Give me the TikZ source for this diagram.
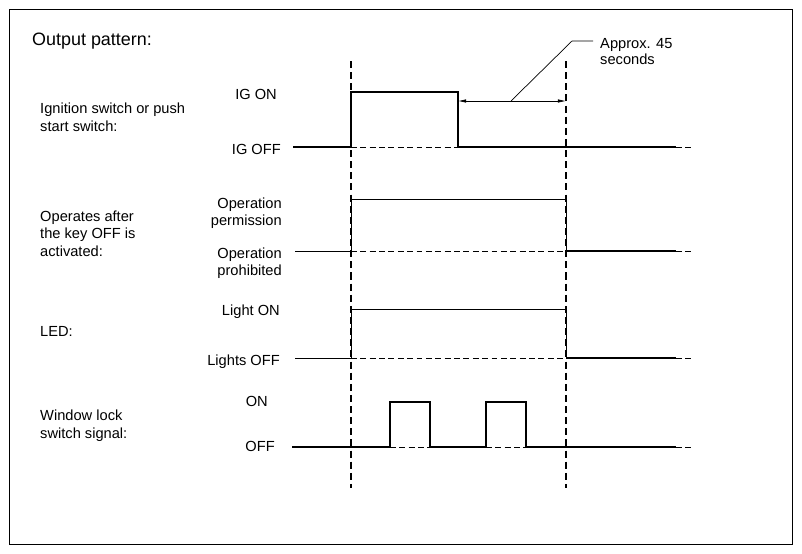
\documentclass[tikz,border=0pt]{standalone}
\usepackage{fontspec}
\setmainfont{Liberation Sans}
\usetikzlibrary{arrows.meta, positioning}

\begin{document}
\begin{tikzpicture}[x=0.03cm, y=-0.03cm,
  lbl/.style={inner sep=0pt, font=\fontsize{12.5}{14.8}\selectfont},
  wave/.style={line width=1.8pt},
  wavethin/.style={line width=0.8pt},
  ref/.style={line width=0.8pt, dash pattern=on 5pt off 3pt},
  tline/.style={line width=1.8pt, dash pattern=on 6pt off 3.5pt}]
  \useasboundingbox (0,0) rectangle (802,554);
  \draw[line width=0.8pt] (9,9) rectangle (792,544);

  \node[lbl, anchor=base west, font=\fontsize{15.3}{18}\selectfont] (title) at (32,45) {Output pattern:};
  \node[lbl, anchor=base west, align=left] (ign) at (40,131) {Ignition switch or push\\start switch:};
  \node[lbl, anchor=base west, align=left] (oper) at (40,256) {Operates after\\the key OFF is\\activated:};
  \node[lbl, anchor=base west] (led) at (40,336) {LED:};
  \node[lbl, anchor=base west, align=left] (win) at (40,438.3) {Window lock\\switch signal:};

  \node[lbl, anchor=base east] (igon) at (277,99) {IG ON};
  \node[lbl, anchor=base east] (igoff) at (281,154) {IG OFF};
  \node[lbl, anchor=base east, align=right] (perm) at (282,225.7) {Operation\\permission};
  \node[lbl, anchor=base east, align=right] (proh) at (282,275.7) {Operation\\prohibited};
  \node[lbl, anchor=base east] (lon) at (280,315) {Light ON};
  \node[lbl, anchor=base east] (loff) at (280,365) {Lights OFF};
  \node[lbl, anchor=base east] (won) at (268,406.7) {ON};
  \node[lbl, anchor=base east] (woff) at (275,451.7) {OFF};
  \node[lbl, anchor=base west, align=left, font=\fontsize{12.5}{13.6}\selectfont] (approx) at (600,64.7) {Approx. 45\\seconds};

  \coordinate (t1) at (351,61);
  \coordinate (t1b) at (351,488);
  \coordinate (t2) at (566,61);
  \coordinate (t2b) at (566,488);
  \draw[tline] (t1) -- (t1b);
  \draw[tline] (t2) -- (t2b);

  \draw[wave] (293,147) -- (351,147) -- (351,92) -- (458,92) -- (458,147) -- (676,147);
  \draw[ref] (351,147) -- (458,147);
  \draw[ref] (676,147) -- (693,147);

  \draw[wavethin] (295,251) -- (351,251) -- (351,199) -- (566,199) -- (566,251);
  \draw[wave] (566,251) -- (676,251);
  \draw[ref] (351,251) -- (566,251);
  \draw[ref] (676,251) -- (693,251);

  \draw[wavethin] (295,358) -- (351,358) -- (351,309) -- (566,309) -- (566,358);
  \draw[wave] (566,358) -- (676,358);
  \draw[ref] (351,358) -- (566,358);
  \draw[ref] (676,358) -- (693,358);

  \draw[wave] (292,447) -- (390,447) -- (390,402) -- (430,402) -- (430,447) -- (486,447) -- (486,402) -- (526,402) -- (526,447) -- (676,447);
  \draw[ref] (390,447) -- (430,447);
  \draw[ref] (486,447) -- (526,447);
  \draw[ref] (676,447) -- (693,447);

  \coordinate (fall) at (458,101);
  \coordinate (lead) at (511,101);
  \draw[<->, >={Latex[length=7pt,width=3pt]}, line width=0.6pt] (fall) -- (t2 |- fall);
  \draw[line width=0.6pt] (lead) -- (572,41) -- (593,41);
\end{tikzpicture}
\end{document}
